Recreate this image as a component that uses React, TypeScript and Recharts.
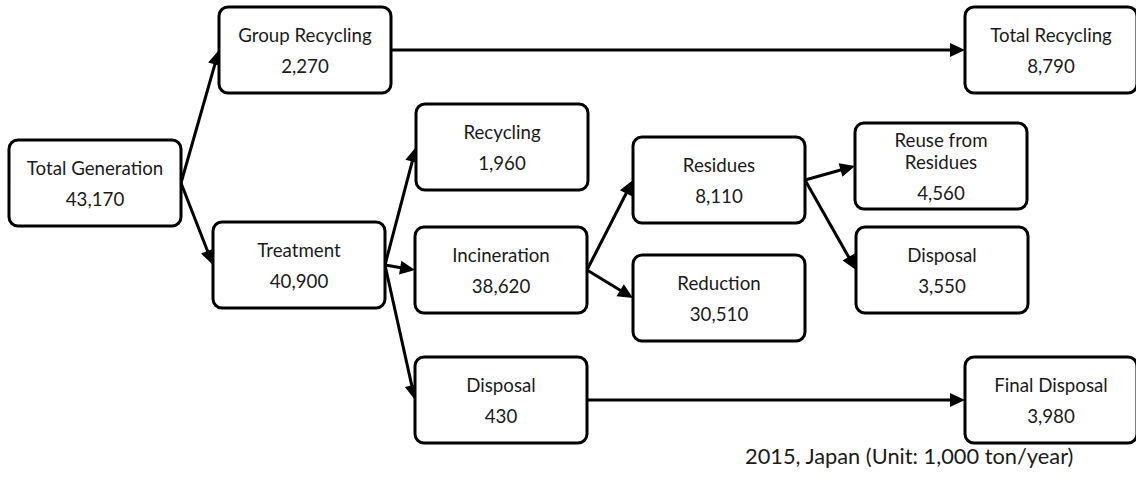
import { ScatterChart, Scatter, XAxis, YAxis, ReferenceLine } from "recharts";

// Flow of municipal waste, Japan 2015 (1,000 ton/year)
const nodeLabels = [
  "Total Generation",
  "Group Recycling",
  "Treatment",
  "Recycling",
  "Incineration",
  "Residues",
  "Reduction",
  "Reuse from\nResidues",
  "Disposal",
  "Total Recycling",
  "Disposal",
  "Final Disposal",
];
const nodeValues = [43170, 2270, 40900, 1960, 38620, 8110, 30510, 4560, 3550, 8790, 430, 3980];

// layout of the box centres in diagram units
const nodeX = [95, 305, 299, 502, 501, 719, 719, 941, 942, 1051, 501, 1051];
const nodeY = [183, 50, 265, 147, 270, 180, 298, 166, 270, 50, 400, 400];

// arrows: index of source box -> index of target box
const edgeFrom = [0, 0, 1, 2, 2, 2, 4, 4, 5, 5, 10];
const edgeTo = [1, 2, 9, 3, 4, 10, 5, 6, 7, 8, 11];

const caption = "2015, Japan (Unit: 1,000 ton/year)";

const W = 1136;
const H = 489;
const BOX_W = 172;
const BOX_H = 86;
const FONT = "Lato, 'Open Sans', sans-serif";

const nodes = nodeLabels.map((label, i) => ({
  x: nodeX[i],
  y: nodeY[i],
  label,
  value: nodeValues[i],
}));

const NodeBox = (props: any) => {
  const { cx, cy, payload } = props;
  const lines: string[] = payload.label.split("\n");
  const val = payload.value.toLocaleString("en-US");
  const rows = [...lines, val];
  const offsets = rows.length === 3 ? [-26, -4, 27] : [-15, 16];
  return (
    <g>
      <rect
        x={cx - BOX_W / 2}
        y={cy - BOX_H / 2}
        width={BOX_W}
        height={BOX_H}
        rx={9}
        ry={9}
        fill="#fff"
        stroke="#000"
        strokeWidth={3}
      />
      {rows.map((r, k) => (
        <text
          key={k}
          x={cx}
          y={cy + offsets[k]}
          textAnchor="middle"
          dominantBaseline="central"
          fontFamily={FONT}
          fontSize={18.7}
          fill="#1a1a1a"
        >
          {r}
        </text>
      ))}
    </g>
  );
};

const Arrow = (props: any) => {
  const { x1, y1, x2, y2 } = props;
  // run from right edge of source box to left edge of target box
  const sx = x1 + BOX_W / 2;
  const tx = x2 - BOX_W / 2;
  const dx = tx - sx;
  const dy = y2 - y1;
  const len = Math.sqrt(dx * dx + dy * dy);
  const ux = dx / len;
  const uy = dy / len;
  const head = 15;
  const half = 7;
  const bx = tx - ux * head;
  const by = y2 - uy * head;
  return (
    <g>
      <line x1={sx} y1={y1} x2={bx + ux} y2={by + uy} stroke="#000" strokeWidth={3} />
      <polygon
        points={`${tx},${y2} ${bx - uy * half},${by + ux * half} ${bx + uy * half},${by - ux * half}`}
        fill="#000"
      />
    </g>
  );
};

export default function App() {
  return (
    <div style={{ position: "absolute", left: 0, top: 0, background: "#fff" }}>
      <ScatterChart width={W} height={H} margin={{ top: 0, right: 0, bottom: 0, left: 0 }}>
        <XAxis type="number" dataKey="x" domain={[0, W]} hide />
        <YAxis type="number" dataKey="y" domain={[0, H]} reversed hide />
        {edgeFrom.map((f, i) => (
          <ReferenceLine
            key={i}
            segment={[
              { x: nodeX[f], y: nodeY[f] },
              { x: nodeX[edgeTo[i]], y: nodeY[edgeTo[i]] },
            ]}
            ifOverflow="visible"
            shape={Arrow}
          />
        ))}
        <Scatter data={nodes} shape={NodeBox} isAnimationActive={false} />
        <text
          x={745}
          y={455}
          dominantBaseline="central"
          fontFamily={FONT}
          fontSize={21.8}
          fill="#1a1a1a"
        >
          {caption}
        </text>
      </ScatterChart>
    </div>
  );
}
